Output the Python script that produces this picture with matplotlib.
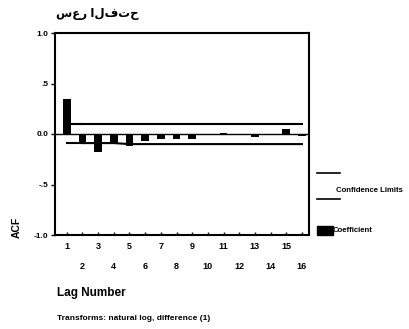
import matplotlib
matplotlib.use("Agg")
import matplotlib.pyplot as plt
from matplotlib.patches import Rectangle
from matplotlib.lines import Line2D

plt.rcParams['font.family'] = ['Liberation Sans', 'DejaVu Sans']

title = "سعر الفتح"
lags = list(range(1, 17))
acf = [0.35, -0.08, -0.18, -0.09, -0.12, -0.07, -0.05, -0.05, -0.05, -0.01, 0.01, -0.01, -0.03, -0.01, 0.05, -0.02]
upper = [0.10, 0.10, 0.10, 0.10, 0.10, 0.10, 0.10, 0.10, 0.10, 0.10, 0.10, 0.10, 0.10, 0.10, 0.10, 0.10]
lower = [-0.09, -0.09, -0.09, -0.09, -0.10, -0.10, -0.10, -0.10, -0.10, -0.10, -0.10, -0.10, -0.10, -0.10, -0.10, -0.10]
yticks = [1.0, 0.5, 0.0, -0.5, -1.0]
ytick_labels = ["1.0", ".5", "0.0", "-.5", "-1.0"]

W, H = 410, 329
fig = plt.figure(figsize=(W / 100, H / 100), dpi=100)
fig.patch.set_facecolor('white')

def fx(px):
    return px / W

def fy(py):
    return 1 - py / H

ax = fig.add_axes([fx(55), fy(235), fx(309) - fx(55), fy(33) - fy(235)])
ax.bar(lags, acf, width=0.5, color='black', zorder=3)
ax.plot(lags[1:], upper[1:], color='black', lw=1.5, zorder=2)
ax.plot(lags[1:], lower[1:], color='black', lw=1.5, zorder=2)
ax.plot([lags[0] + 0.25, lags[1]], [upper[0], upper[1]], color='black', lw=1.5, zorder=2)
ax.plot([lags[0], lags[1]], [lower[0], lower[1]], color='black', lw=1.5, zorder=2)
ax.axhline(0, color='black', lw=1.0, zorder=2)

ax.set_xlim(0.25, 16.45)
ax.set_ylim(-1.0, 1.0)
ax.set_yticks(yticks)
ax.set_yticklabels(ytick_labels, fontsize=6, fontweight='bold')
ax.set_xticks(lags)
ax.set_xticklabels([str(l) if l % 2 == 1 else "\n" + str(l) for l in lags],
                   fontsize=6.5, fontweight='bold', linespacing=2.6)
ax.tick_params(axis='x', direction='in', length=2, width=1, pad=5)
ax.tick_params(axis='y', direction='out', length=3, width=1, pad=2)
for s in ax.spines.values():
    s.set_linewidth(1.5)

ax.set_ylabel("ACF", fontsize=7.5, fontweight='bold')
ax.yaxis.set_label_coords(-0.13, 0.04)

fig.text(fx(56), fy(14), title, fontsize=8.5, fontweight='bold', ha='left', va='center')
fig.text(fx(57), fy(293), "Lag Number", fontsize=8.5, fontweight='bold', ha='left', va='center')
fig.text(fx(57), fy(318), "Transforms: natural log, difference (1)", fontsize=6, fontweight='bold',
         ha='left', va='center')

# legend
fig.add_artist(Line2D([fx(317), fx(340)], [fy(173), fy(173)], color='black', lw=1.2))
fig.add_artist(Line2D([fx(317), fx(340)], [fy(199), fy(199)], color='black', lw=1.2))
fig.text(fx(336), fy(190), "Confidence Limits", fontsize=5.6, fontweight='bold', ha='left', va='center')
fig.add_artist(Rectangle((fx(317), fy(235)), fx(16), fy(226) - fy(235), color='black',
                         transform=fig.transFigure))
fig.text(fx(333), fy(231), "Coefficient", fontsize=5.6, fontweight='bold', ha='left', va='center')

fig.savefig("out.png", dpi=100)
